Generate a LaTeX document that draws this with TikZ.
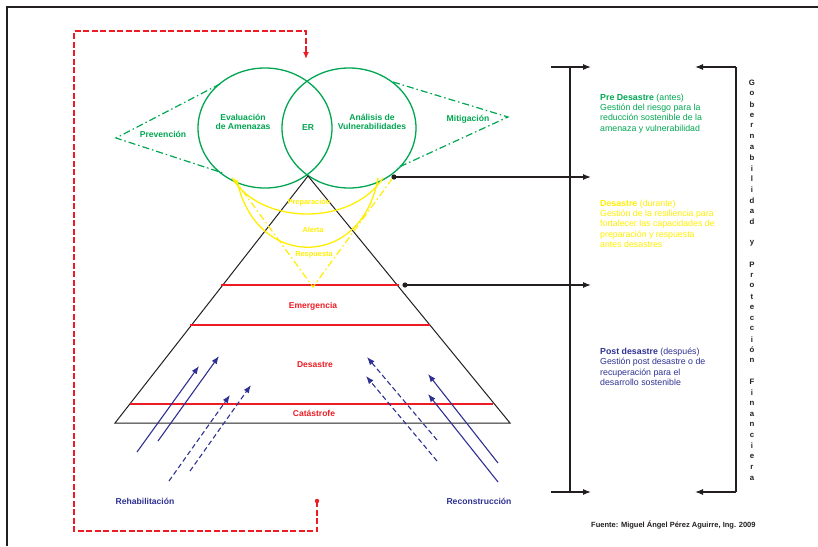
\documentclass[tikz,border=0pt]{standalone}
\usepackage{fontspec}
\setmainfont{Liberation Sans}
\usetikzlibrary{shapes.geometric,positioning,arrows.meta}

\definecolor{ergreen}{RGB}{0,166,81}
\definecolor{eryellow}{RGB}{255,238,0}
\definecolor{erred}{RGB}{237,28,36}
\definecolor{erblue}{RGB}{46,49,146}
\definecolor{ergray}{RGB}{35,31,32}

\begin{document}
\begin{tikzpicture}[x=1pt, y=-1pt,
    circ/.style={ellipse, draw=ergreen, line width=1.3pt, minimum width=134pt, minimum height=120pt, inner sep=0},
    glabel/.style={font=\fontsize{8.6}{9.6}\selectfont\bfseries, text=ergreen, align=center, inner sep=0},
    ylabel/.style={font=\fontsize{7.4}{8}\selectfont\bfseries, text=eryellow, inner sep=0},
    rlabel/.style={font=\fontsize{8.5}{9}\selectfont\bfseries, text=erred, inner sep=0},
    blabel/.style={font=\fontsize{8.6}{9}\selectfont\bfseries, text=erblue, inner sep=0},
    sidetext/.style={anchor=north west, align=left, inner sep=0, font=\fontsize{8.8}{10.2}\selectfont},
    dashdot/.style={draw=ergreen, line width=1.2pt, dash pattern=on 7pt off 3pt on 1.5pt off 3pt},
    ydashdot/.style={draw=eryellow, line width=1.2pt, dash pattern=on 7pt off 3pt on 1.5pt off 3pt},
    ycurve/.style={draw=eryellow, line width=1.3pt},
    level/.style={draw=erred, line width=1.2pt},
    barrow/.style={draw=ergray, line width=1.2pt, -{Latex[length=8pt,width=6pt]}},
    bline/.style={draw=ergray, line width=1.4pt},
    uparrow/.style={draw=erblue, line width=1.1pt, -{Latex[length=8pt,width=6pt]}},
    uparrowd/.style={uparrow, dash pattern=on 5pt off 3pt},
    redloop/.style={draw=erred, line width=1.3pt, dash pattern=on 6pt off 2.5pt},
]
\useasboundingbox (0,0) rectangle (818,546);

% Frame
\draw[ergray, line width=2pt] (7,546) -- (7,7) -- (818,7);

% Circles of risk assessment
\node[circ] (amen) at (265,128) {};
\node[circ] (vuln) at (349,128) {};
\node[glabel] (amenTxt) at (243,122) {Evaluación\\de Amenazas};
\node[glabel] (er) at (308,128) {ER};
\node[glabel] (vulnTxt) at (372,122) {Análisis de\\Vulnerabilidades};

% Prevention and mitigation wings
\coordinate (prevTip) at (116,138);
\coordinate (prevUp) at (220,84);
\coordinate (prevDn) at (223,173);
\coordinate (mitTip) at (508,117);
\coordinate (mitUp) at (393,82);
\coordinate (mitDn) at (397,168);
\draw[dashdot] (prevUp) -- (prevTip) -- (prevDn);
\draw[dashdot] (mitUp) -- (mitTip) -- (mitDn);
\node[glabel] (prev) at (163,134) {Prevención};
\node[glabel] (mit) at (468,119) {Mitigación};

% Pyramid
\coordinate (apex) at (308,176);
\coordinate (baseL) at (115,423);
\coordinate (baseR) at (510,423);
\draw[ergray, line width=1pt] (baseL) -- (apex) -- (baseR) -- cycle;

% Levels of the pyramid
\draw[level] (221,285) -- (399,285);
\draw[level] (190,325) -- (430,325);
\draw[level] (130,404) -- (493,404);
\node[rlabel] (emerg) at (313,306) {Emergencia};
\node[rlabel] (desas) at (315,365) {Desastre};
\node[rlabel] (catas) at (314,413) {Catástrofe};

% Yellow response phases
\coordinate (yL) at (232,178);
\coordinate (yR) at (383,178);
\coordinate (vTip) at (313,287);
\draw[ycurve] (yL) .. controls (262,226) and (352,226) .. (yR);
\draw[ycurve] (237,180) .. controls (255,270) and (362,270) .. (378,178);
\draw[ydashdot] (234,179) -- (vTip) -- (392,179);
\node[ylabel] (prep) at (309,203) {Preparación};
\node[ylabel] (alert) at (313,230) {Alerta};
\node[ylabel] (resp) at (314,255) {Respuesta};

% Left bracket with arrows
\coordinate (brTop) at (570,67);
\coordinate (brBot) at (570,492);
\draw[bline] (brTop) -- (brBot);
\draw[barrow] (551,67) -- (591,67);
\draw[barrow] (551,492) -- (591,492);

% Connectors from the diagram
\coordinate (dotPre) at (394,177);
\coordinate (dotDur) at (405,285);
\fill[ergray] (dotPre) circle (2.6);
\fill[ergray] (dotDur) circle (2.6);
\draw[barrow] (dotPre) -- (591,177);
\draw[barrow] (dotDur) -- (591,285);

% Right bracket
\coordinate (gbTop) at (736,67);
\coordinate (gbBot) at (736,492);
\draw[barrow] (gbTop) -- (695,67);
\draw[bline] (gbTop) -- (gbBot);
\draw[barrow] (gbBot) -- (695,492);

% Vertical text
\foreach \c [count=\k] in {G,o,b,e,r,n,a,b,i,l,i,d,a,d,{},y,{},P,r,o,t,e,c,c,i,ó,n,{},F,i,n,a,n,c,i,e,r,a} {
    \pgfmathsetmacro{\y}{83 + (\k-1)*10.68}
    \node[font=\fontsize{7.8}{8}\selectfont\bfseries, text=ergray, inner sep=0] (gob-\k) at (752,\y) {\c};
}

% Side texts
\node[sidetext, text=ergreen] (preTxt) at (600,94)
    {\textbf{Pre Desastre} (antes)\\Gestión del riesgo para la\\reducción sostenible de la\\amenaza y vulnerabilidad};
\node[sidetext, text=eryellow] (durTxt) at (600,200)
    {\textbf{Desastre} (durante)\\Gestión de la resiliencia para\\fortalecer las capacidades de\\preparación y respuesta\\antes desastres};
\node[sidetext, text=erblue] (postTxt) at (600,348)
    {\textbf{Post desastre} (después)\\Gestión post desastre o de\\recuperación para el\\desarrollo sostenible};

% Rehabilitation arrows
\foreach \tx/\ty/\hx/\hy [count=\k] in {137/452/199/366, 158/441/219/356} {
    \coordinate (rhT\k) at (\tx,\ty);
    \coordinate (rhH\k) at (\hx,\hy);
    \draw[uparrow] (rhT\k) -- (rhH\k);
}
\foreach \tx/\ty/\hx/\hy [count=\k] in {169/481/230/395, 190/471/251/385} {
    \coordinate (rdT\k) at (\tx,\ty);
    \coordinate (rdH\k) at (\hx,\hy);
    \draw[uparrowd] (rdT\k) -- (rdH\k);
}

% Reconstruction arrows
\foreach \tx/\ty/\hx/\hy [count=\k] in {498/463/428/374, 498/482/428/394} {
    \coordinate (rcT\k) at (\tx,\ty);
    \coordinate (rcH\k) at (\hx,\hy);
    \draw[uparrow] (rcT\k) -- (rcH\k);
}
\foreach \tx/\ty/\hx/\hy [count=\k] in {437/440/367/357, 437/461/366/376} {
    \coordinate (rkT\k) at (\tx,\ty);
    \coordinate (rkH\k) at (\hx,\hy);
    \draw[uparrowd] (rkT\k) -- (rkH\k);
}
\node[blabel] (rehab) at (145,501) {Rehabilitación};
\node[blabel] (recon) at (479,501) {Reconstrucción};

% Feedback loop
\coordinate (loopStart) at (317,501);
\coordinate (loopBL) at (74,531);
\coordinate (loopTL) at (74,31);
\coordinate (loopEnd) at (306,59);
\fill[erred] (loopStart) circle (2.2);
\draw[redloop, -{Latex[length=7pt,width=6pt]}] (loopStart) |- (loopBL) -- (loopTL) -| (loopEnd);

% Source
\node[font=\fontsize{7.5}{8}\selectfont\bfseries, text=ergray, anchor=west, inner sep=0] (fuente) at (591,525)
    {Fuente: Miguel Ángel Pérez Aguirre, Ing. 2009};

\end{tikzpicture}
\end{document}
